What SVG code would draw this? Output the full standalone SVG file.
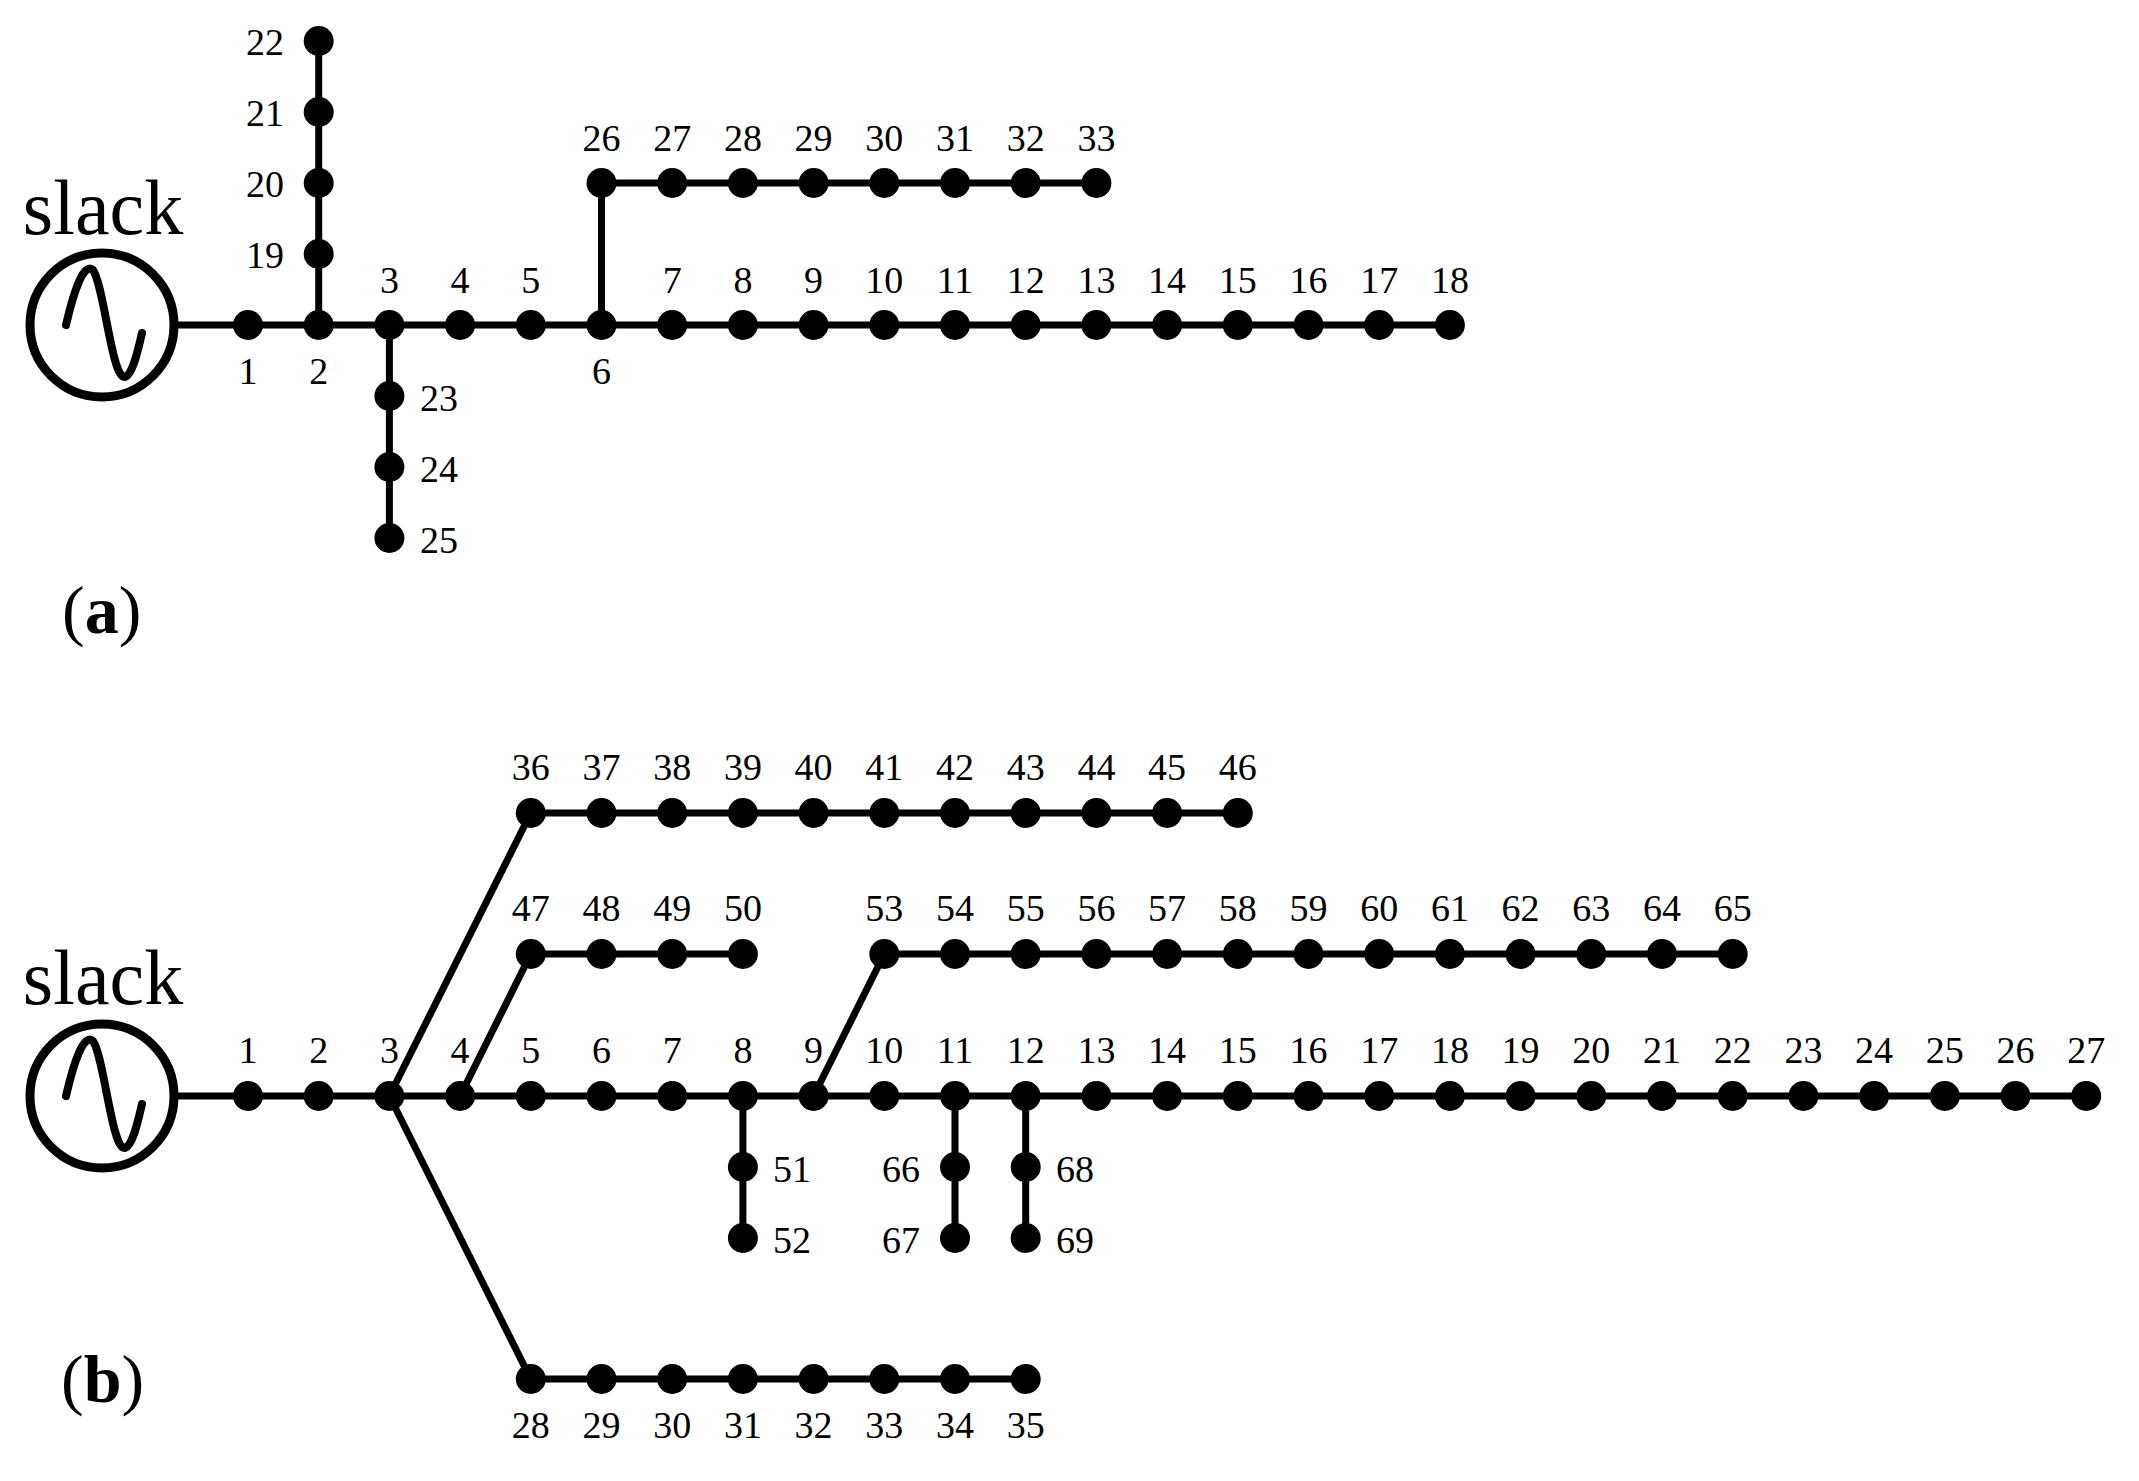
<svg xmlns="http://www.w3.org/2000/svg" width="2139" height="1481" viewBox="0 0 2139 1481">
<style>
.n{fill:#000}
.w{stroke:#000;stroke-width:7;fill:none}
.t{font-family:"Liberation Serif",serif;font-size:38px;fill:#000;text-anchor:middle}
.s{text-anchor:start}
.e{text-anchor:end}
.big{font-family:"Liberation Serif",serif;font-size:78px;fill:#000;text-anchor:middle}
.cap{font-family:"Liberation Serif",serif;font-size:68px;fill:#000}
.gen{stroke:#000;stroke-width:9;fill:#fff}
.sine{stroke:#000;stroke-width:8;fill:none;stroke-linecap:round}
</style>
<defs><circle id="d" r="15" class="n"/></defs>
<g id="connectors">
<path class="w" d="M178,325H1450M318.7,325V41M389.4,325V538M601.5,325V183H1096.4"/>
<path class="w" d="M178,1096H2086.2M389.4,1096L530.8,813H1237.8M460.1,1096L530.8,954H742.9M813.6,1096L884.3,954H1732.7M389.4,1096L530.8,1379H1025.7M742.9,1096V1238M955,1096V1238M1025.7,1096V1238"/>
</g>
<g id="slack-a">
<circle class="gen" cx="102" cy="325" r="72"/>
<path class="sine" d="M66,325C74,290 84,262 93,270C104,285 112,380 125,377C133,374 138,350 142,333"/>
<text class="big" x="103" y="234">slack</text>
</g>
<g id="slack-b">
<circle class="gen" cx="102" cy="1096" r="72"/>
<path class="sine" d="M66,1096C74,1061 84,1033 93,1041C104,1056 112,1151 125,1148C133,1145 138,1121 142,1104"/>
<text class="big" x="103" y="1004">slack</text>
</g>
<text class="cap" x="62" y="633">(<tspan font-weight="bold">a</tspan>)</text>
<text class="cap" x="61" y="1402">(<tspan font-weight="bold">b</tspan>)</text>
<g id="nodes-a">
<g id="a1"><use href="#d" x="248" y="325"/><text class="t" x="248" y="384">1</text></g>
<g id="a2"><use href="#d" x="318.7" y="325"/><text class="t" x="318.7" y="384">2</text></g>
<g id="a3"><use href="#d" x="389.4" y="325"/><text class="t" x="389.4" y="293">3</text></g>
<g id="a4"><use href="#d" x="460.1" y="325"/><text class="t" x="460.1" y="293">4</text></g>
<g id="a5"><use href="#d" x="530.8" y="325"/><text class="t" x="530.8" y="293">5</text></g>
<g id="a6"><use href="#d" x="601.5" y="325"/><text class="t" x="601.5" y="384">6</text></g>
<g id="a7"><use href="#d" x="672.2" y="325"/><text class="t" x="672.2" y="293">7</text></g>
<g id="a8"><use href="#d" x="742.9" y="325"/><text class="t" x="742.9" y="293">8</text></g>
<g id="a9"><use href="#d" x="813.6" y="325"/><text class="t" x="813.6" y="293">9</text></g>
<g id="a10"><use href="#d" x="884.3" y="325"/><text class="t" x="884.3" y="293">10</text></g>
<g id="a11"><use href="#d" x="955" y="325"/><text class="t" x="955" y="293">11</text></g>
<g id="a12"><use href="#d" x="1025.7" y="325"/><text class="t" x="1025.7" y="293">12</text></g>
<g id="a13"><use href="#d" x="1096.4" y="325"/><text class="t" x="1096.4" y="293">13</text></g>
<g id="a14"><use href="#d" x="1167.1" y="325"/><text class="t" x="1167.1" y="293">14</text></g>
<g id="a15"><use href="#d" x="1237.8" y="325"/><text class="t" x="1237.8" y="293">15</text></g>
<g id="a16"><use href="#d" x="1308.5" y="325"/><text class="t" x="1308.5" y="293">16</text></g>
<g id="a17"><use href="#d" x="1379.2" y="325"/><text class="t" x="1379.2" y="293">17</text></g>
<g id="a18"><use href="#d" x="1449.9" y="325"/><text class="t" x="1449.9" y="293">18</text></g>
<g id="a19"><use href="#d" x="318.7" y="254"/><text class="t e" x="284" y="268">19</text></g>
<g id="a20"><use href="#d" x="318.7" y="183"/><text class="t e" x="284" y="197">20</text></g>
<g id="a21"><use href="#d" x="318.7" y="112"/><text class="t e" x="284" y="126">21</text></g>
<g id="a22"><use href="#d" x="318.7" y="41"/><text class="t e" x="284" y="55">22</text></g>
<g id="a23"><use href="#d" x="389.4" y="396"/><text class="t s" x="420" y="411">23</text></g>
<g id="a24"><use href="#d" x="389.4" y="467"/><text class="t s" x="420" y="482">24</text></g>
<g id="a25"><use href="#d" x="389.4" y="538"/><text class="t s" x="420" y="553">25</text></g>
<g id="a26"><use href="#d" x="601.5" y="183"/><text class="t" x="601.5" y="151">26</text></g>
<g id="a27"><use href="#d" x="672.2" y="183"/><text class="t" x="672.2" y="151">27</text></g>
<g id="a28"><use href="#d" x="742.9" y="183"/><text class="t" x="742.9" y="151">28</text></g>
<g id="a29"><use href="#d" x="813.6" y="183"/><text class="t" x="813.6" y="151">29</text></g>
<g id="a30"><use href="#d" x="884.3" y="183"/><text class="t" x="884.3" y="151">30</text></g>
<g id="a31"><use href="#d" x="955" y="183"/><text class="t" x="955" y="151">31</text></g>
<g id="a32"><use href="#d" x="1025.7" y="183"/><text class="t" x="1025.7" y="151">32</text></g>
<g id="a33"><use href="#d" x="1096.4" y="183"/><text class="t" x="1096.4" y="151">33</text></g>
</g>
<g id="nodes-b">
<g id="b1"><use href="#d" x="248" y="1096"/><text class="t" x="248" y="1063">1</text></g>
<g id="b2"><use href="#d" x="318.7" y="1096"/><text class="t" x="318.7" y="1063">2</text></g>
<g id="b3"><use href="#d" x="389.4" y="1096"/><text class="t" x="389.4" y="1063">3</text></g>
<g id="b4"><use href="#d" x="460.1" y="1096"/><text class="t" x="460.1" y="1063">4</text></g>
<g id="b5"><use href="#d" x="530.8" y="1096"/><text class="t" x="530.8" y="1063">5</text></g>
<g id="b6"><use href="#d" x="601.5" y="1096"/><text class="t" x="601.5" y="1063">6</text></g>
<g id="b7"><use href="#d" x="672.2" y="1096"/><text class="t" x="672.2" y="1063">7</text></g>
<g id="b8"><use href="#d" x="742.9" y="1096"/><text class="t" x="742.9" y="1063">8</text></g>
<g id="b9"><use href="#d" x="813.6" y="1096"/><text class="t" x="813.6" y="1063">9</text></g>
<g id="b10"><use href="#d" x="884.3" y="1096"/><text class="t" x="884.3" y="1063">10</text></g>
<g id="b11"><use href="#d" x="955" y="1096"/><text class="t" x="955" y="1063">11</text></g>
<g id="b12"><use href="#d" x="1025.7" y="1096"/><text class="t" x="1025.7" y="1063">12</text></g>
<g id="b13"><use href="#d" x="1096.4" y="1096"/><text class="t" x="1096.4" y="1063">13</text></g>
<g id="b14"><use href="#d" x="1167.1" y="1096"/><text class="t" x="1167.1" y="1063">14</text></g>
<g id="b15"><use href="#d" x="1237.8" y="1096"/><text class="t" x="1237.8" y="1063">15</text></g>
<g id="b16"><use href="#d" x="1308.5" y="1096"/><text class="t" x="1308.5" y="1063">16</text></g>
<g id="b17"><use href="#d" x="1379.2" y="1096"/><text class="t" x="1379.2" y="1063">17</text></g>
<g id="b18"><use href="#d" x="1449.9" y="1096"/><text class="t" x="1449.9" y="1063">18</text></g>
<g id="b19"><use href="#d" x="1520.6" y="1096"/><text class="t" x="1520.6" y="1063">19</text></g>
<g id="b20"><use href="#d" x="1591.3" y="1096"/><text class="t" x="1591.3" y="1063">20</text></g>
<g id="b21"><use href="#d" x="1662" y="1096"/><text class="t" x="1662" y="1063">21</text></g>
<g id="b22"><use href="#d" x="1732.7" y="1096"/><text class="t" x="1732.7" y="1063">22</text></g>
<g id="b23"><use href="#d" x="1803.4" y="1096"/><text class="t" x="1803.4" y="1063">23</text></g>
<g id="b24"><use href="#d" x="1874.1" y="1096"/><text class="t" x="1874.1" y="1063">24</text></g>
<g id="b25"><use href="#d" x="1944.8" y="1096"/><text class="t" x="1944.8" y="1063">25</text></g>
<g id="b26"><use href="#d" x="2015.5" y="1096"/><text class="t" x="2015.5" y="1063">26</text></g>
<g id="b27"><use href="#d" x="2086.2" y="1096"/><text class="t" x="2086.2" y="1063">27</text></g>
<g id="b28"><use href="#d" x="530.8" y="1379"/><text class="t" x="530.8" y="1438">28</text></g>
<g id="b29"><use href="#d" x="601.5" y="1379"/><text class="t" x="601.5" y="1438">29</text></g>
<g id="b30"><use href="#d" x="672.2" y="1379"/><text class="t" x="672.2" y="1438">30</text></g>
<g id="b31"><use href="#d" x="742.9" y="1379"/><text class="t" x="742.9" y="1438">31</text></g>
<g id="b32"><use href="#d" x="813.6" y="1379"/><text class="t" x="813.6" y="1438">32</text></g>
<g id="b33"><use href="#d" x="884.3" y="1379"/><text class="t" x="884.3" y="1438">33</text></g>
<g id="b34"><use href="#d" x="955" y="1379"/><text class="t" x="955" y="1438">34</text></g>
<g id="b35"><use href="#d" x="1025.7" y="1379"/><text class="t" x="1025.7" y="1438">35</text></g>
<g id="b36"><use href="#d" x="530.8" y="813"/><text class="t" x="530.8" y="780">36</text></g>
<g id="b37"><use href="#d" x="601.5" y="813"/><text class="t" x="601.5" y="780">37</text></g>
<g id="b38"><use href="#d" x="672.2" y="813"/><text class="t" x="672.2" y="780">38</text></g>
<g id="b39"><use href="#d" x="742.9" y="813"/><text class="t" x="742.9" y="780">39</text></g>
<g id="b40"><use href="#d" x="813.6" y="813"/><text class="t" x="813.6" y="780">40</text></g>
<g id="b41"><use href="#d" x="884.3" y="813"/><text class="t" x="884.3" y="780">41</text></g>
<g id="b42"><use href="#d" x="955" y="813"/><text class="t" x="955" y="780">42</text></g>
<g id="b43"><use href="#d" x="1025.7" y="813"/><text class="t" x="1025.7" y="780">43</text></g>
<g id="b44"><use href="#d" x="1096.4" y="813"/><text class="t" x="1096.4" y="780">44</text></g>
<g id="b45"><use href="#d" x="1167.1" y="813"/><text class="t" x="1167.1" y="780">45</text></g>
<g id="b46"><use href="#d" x="1237.8" y="813"/><text class="t" x="1237.8" y="780">46</text></g>
<g id="b47"><use href="#d" x="530.8" y="954"/><text class="t" x="530.8" y="921">47</text></g>
<g id="b48"><use href="#d" x="601.5" y="954"/><text class="t" x="601.5" y="921">48</text></g>
<g id="b49"><use href="#d" x="672.2" y="954"/><text class="t" x="672.2" y="921">49</text></g>
<g id="b50"><use href="#d" x="742.9" y="954"/><text class="t" x="742.9" y="921">50</text></g>
<g id="b51"><use href="#d" x="742.9" y="1167"/><text class="t s" x="773" y="1182">51</text></g>
<g id="b52"><use href="#d" x="742.9" y="1238"/><text class="t s" x="773" y="1253">52</text></g>
<g id="b53"><use href="#d" x="884.3" y="954"/><text class="t" x="884.3" y="921">53</text></g>
<g id="b54"><use href="#d" x="955" y="954"/><text class="t" x="955" y="921">54</text></g>
<g id="b55"><use href="#d" x="1025.7" y="954"/><text class="t" x="1025.7" y="921">55</text></g>
<g id="b56"><use href="#d" x="1096.4" y="954"/><text class="t" x="1096.4" y="921">56</text></g>
<g id="b57"><use href="#d" x="1167.1" y="954"/><text class="t" x="1167.1" y="921">57</text></g>
<g id="b58"><use href="#d" x="1237.8" y="954"/><text class="t" x="1237.8" y="921">58</text></g>
<g id="b59"><use href="#d" x="1308.5" y="954"/><text class="t" x="1308.5" y="921">59</text></g>
<g id="b60"><use href="#d" x="1379.2" y="954"/><text class="t" x="1379.2" y="921">60</text></g>
<g id="b61"><use href="#d" x="1449.9" y="954"/><text class="t" x="1449.9" y="921">61</text></g>
<g id="b62"><use href="#d" x="1520.6" y="954"/><text class="t" x="1520.6" y="921">62</text></g>
<g id="b63"><use href="#d" x="1591.3" y="954"/><text class="t" x="1591.3" y="921">63</text></g>
<g id="b64"><use href="#d" x="1662" y="954"/><text class="t" x="1662" y="921">64</text></g>
<g id="b65"><use href="#d" x="1732.7" y="954"/><text class="t" x="1732.7" y="921">65</text></g>
<g id="b66"><use href="#d" x="955" y="1167"/><text class="t e" x="920" y="1182">66</text></g>
<g id="b67"><use href="#d" x="955" y="1238"/><text class="t e" x="920" y="1253">67</text></g>
<g id="b68"><use href="#d" x="1025.7" y="1167"/><text class="t s" x="1056" y="1182">68</text></g>
<g id="b69"><use href="#d" x="1025.7" y="1238"/><text class="t s" x="1056" y="1253">69</text></g>
</g>
</svg>
